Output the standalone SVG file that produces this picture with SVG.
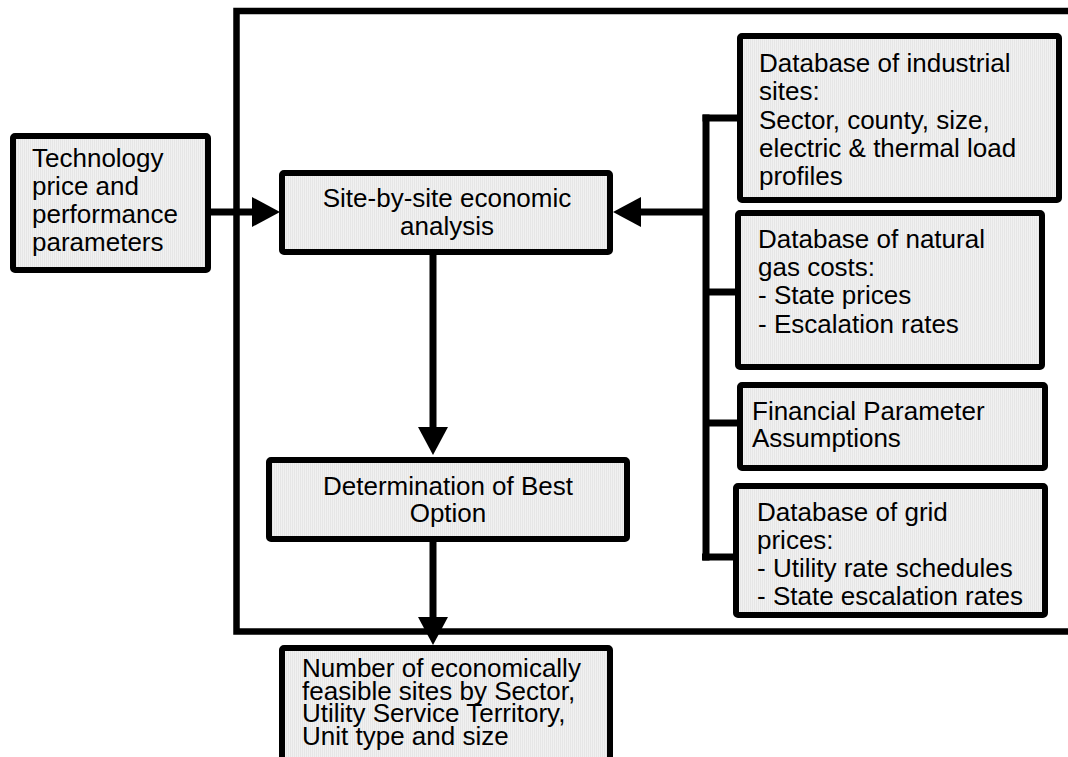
<svg xmlns="http://www.w3.org/2000/svg" width="1068" height="757" viewBox="0 0 1068 757">
<style>
.node{fill:url(#hatch);stroke:#000;stroke-width:6;}
.frame{fill:none;stroke:#000;stroke-width:6.5;}
.conn{fill:none;stroke:#000;stroke-width:7;}
text{font-family:"Liberation Sans",Arial,sans-serif;font-size:26px;fill:#000;}
.c{text-anchor:middle;}
</style>
<defs>
<pattern id="hatch" width="2" height="4" patternUnits="userSpaceOnUse">
<rect width="2" height="4" fill="#f1f1f1"/>
<rect width="1" height="4" fill="#e6e6e6"/>
</pattern>
<marker id="ah" markerUnits="userSpaceOnUse" markerWidth="30" markerHeight="32" refX="0" refY="15" orient="auto" overflow="visible">
<path d="M0,0 L28,15 L0,30 Z" fill="#000"/>
</marker>
</defs>
<rect width="1068" height="757" fill="#fff"/>
<rect class="frame" x="236.5" y="11" width="845" height="620.5"/>
<g id="connectors">
<path class="conn" d="M211,212 H252" marker-end="url(#ah)"/>
<path class="conn" d="M706,212 H641" marker-end="url(#ah)"/>
<path class="conn" d="M706,114.5 V560.5"/>
<path class="conn" d="M702.5,118 H738"/>
<path class="conn" d="M706,292 H736"/>
<path class="conn" d="M706,423 H738"/>
<path class="conn" d="M702,557 H734"/>
<path class="conn" d="M433,255 V427" marker-end="url(#ah)"/>
<path class="conn" d="M433,542 V617" marker-end="url(#ah)"/>
</g>
<g id="tech">
<rect class="node" x="13" y="136" width="195" height="134" rx="2"/>
<text x="32" y="167">Technology</text>
<text x="32" y="195">price and</text>
<text x="32" y="223">performance</text>
<text x="32" y="251">parameters</text>
</g>
<g id="site">
<rect class="node" x="282" y="173" width="328" height="79" rx="2"/>
<text class="c" x="447" y="207">Site-by-site economic</text>
<text class="c" x="447" y="235">analysis</text>
</g>
<g id="best">
<rect class="node" x="269" y="460" width="358" height="79" rx="2"/>
<text class="c" x="448" y="495">Determination of Best</text>
<text class="c" x="448" y="522">Option</text>
</g>
<g id="result">
<rect class="node" x="282" y="648" width="328" height="125" rx="2"/>
<text x="302" y="677">Number of economically</text>
<text x="302" y="700">feasible sites by Sector,</text>
<text x="302" y="722">Utility Service Territory,</text>
<text x="302" y="745">Unit type and size</text>
</g>
<g id="industrial">
<rect class="node" x="740" y="36" width="319" height="164" rx="2"/>
<text x="759" y="72">Database of industrial</text>
<text x="759" y="100">sites:</text>
<text x="759" y="129">Sector, county, size,</text>
<text x="759" y="157">electric &amp; thermal load</text>
<text x="759" y="185">profiles</text>
</g>
<g id="gas">
<rect class="node" x="738" y="213" width="304" height="154" rx="2"/>
<text x="758" y="248">Database of natural</text>
<text x="758" y="276">gas costs:</text>
<text x="758" y="304">- State prices</text>
<text x="758" y="333">- Escalation rates</text>
</g>
<g id="financial">
<rect class="node" x="740" y="385" width="305" height="83" rx="2"/>
<text x="752" y="420">Financial Parameter</text>
<text x="752" y="447">Assumptions</text>
</g>
<g id="grid">
<rect class="node" x="736" y="486" width="309" height="129" rx="2"/>
<text x="757" y="521">Database of grid</text>
<text x="757" y="549">prices:</text>
<text x="757" y="577">- Utility rate schedules</text>
<text x="757" y="605">- State escalation rates</text>
</g>
</svg>
